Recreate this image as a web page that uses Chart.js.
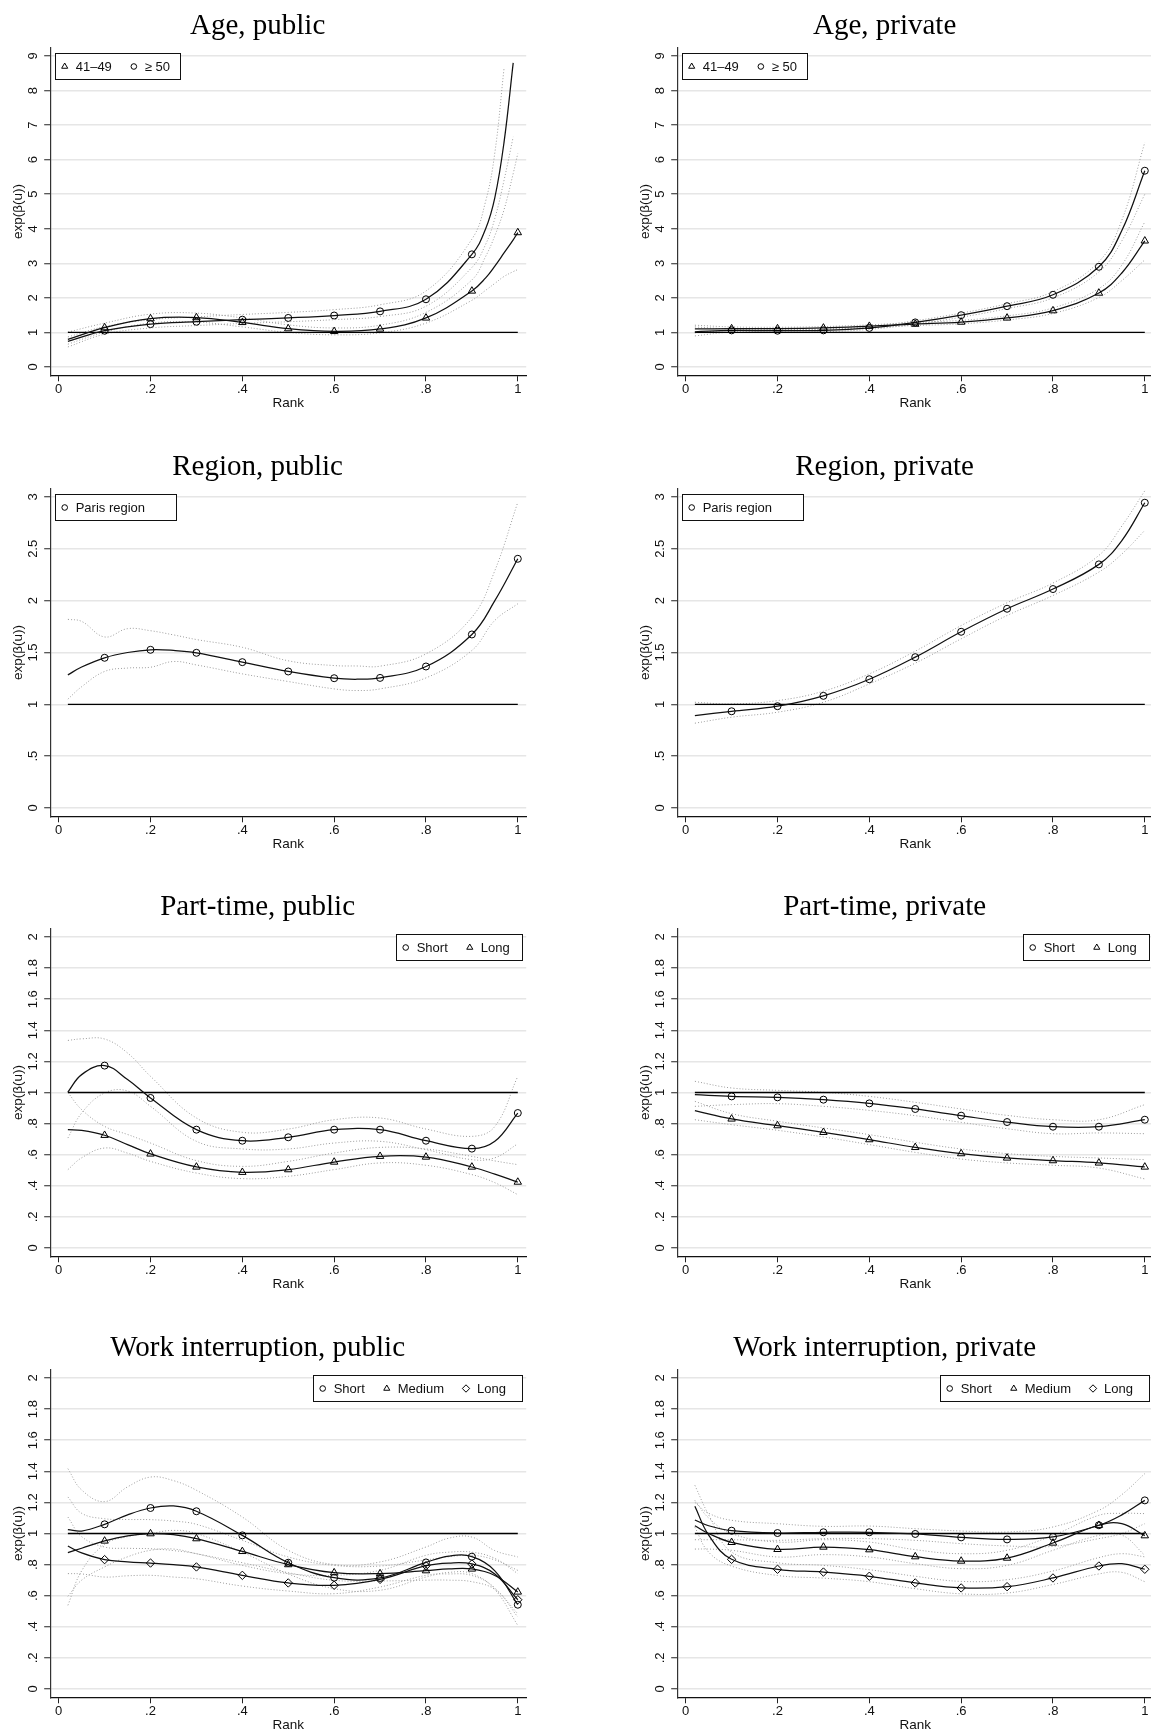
<!DOCTYPE html>
<html>
<head>
<meta charset="utf-8">
<script src="https://cdn.jsdelivr.net/npm/chart.js@4.4.1/dist/chart.umd.min.js"></script>
<style>
  html, body { margin: 0; padding: 0; background: #fff; }
  #page { position: relative; width: 1151px; height: 1733px; overflow: hidden; background: #fff; }
  #page canvas { position: absolute; }
</style>
</head>
<body>
<div id="page"></div>
<script>
// ---------- shared axis values ----------
const xTicks = [0, 0.2, 0.4, 0.6, 0.8, 1];
const xTickLabels = ['0', '.2', '.4', '.6', '.8', '1'];
const markerRanks = [0.1, 0.2, 0.3, 0.4, 0.5, 0.6, 0.7, 0.8, 0.9, 1];
const refRank = [0.02, 1];
const refLevel = 1;
const xTitle = 'Rank';
const yTitle = 'exp(β(u))';

const ageTicks = [0, 1, 2, 3, 4, 5, 6, 7, 8, 9];
const ageTickLabels = ['0', '1', '2', '3', '4', '5', '6', '7', '8', '9'];
const regionTicks = [0, 0.5, 1, 1.5, 2, 2.5, 3];
const regionTickLabels = ['0', '.5', '1', '1.5', '2', '2.5', '3'];
const shareTicks = [0, 0.2, 0.4, 0.6, 0.8, 1, 1.2, 1.4, 1.6, 1.8, 2];
const shareTickLabels = ['0', '.2', '.4', '.6', '.8', '1', '1.2', '1.4', '1.6', '1.8', '2'];

const titles = ['Age, public', 'Age, private', 'Region, public', 'Region, private',
                'Part-time, public', 'Part-time, private', 'Work interruption, public', 'Work interruption, private'];
const ageLegend = ['41–49', '≥ 50'];
const regionLegend = ['Paris region'];
const partTimeLegend = ['Short', 'Long'];
const interruptionLegend = ['Short', 'Medium', 'Long'];

// ---------- Age, public ----------
const agePubRank   = [0.02, 0.1, 0.2, 0.3, 0.4, 0.5, 0.6, 0.7, 0.8, 0.9, 0.93, 0.95, 0.97, 0.99, 1];
const agePub4149   = [0.80, 1.14, 1.40, 1.43, 1.29, 1.11, 1.03, 1.10, 1.42, 2.20, 2.58, 2.92, 3.30, 3.68, 3.89];
const agePub4149Hi = [1.01, 1.27, 1.53, 1.56, 1.42, 1.22, 1.13, 1.21, 1.58, 2.52, 3.20, 3.80, 4.55, 5.60, 6.18];
const agePub4149Lo = [0.66, 1.01, 1.27, 1.30, 1.16, 1.00, 0.93, 0.99, 1.27, 1.93, 2.22, 2.42, 2.62, 2.76, 2.82];
const agePub50     = [0.74, 1.05, 1.24, 1.31, 1.37, 1.42, 1.49, 1.61, 1.96, 3.26, 4.00, 4.90, 6.50, 8.80, null];
const agePub50Hi   = [0.87, 1.17, 1.37, 1.45, 1.52, 1.58, 1.66, 1.80, 2.20, 3.70, 4.80, 6.20, 8.64, null, null];
const agePub50Lo   = [0.58, 0.95, 1.13, 1.20, 1.26, 1.31, 1.37, 1.46, 1.76, 2.88, 3.55, 4.30, 5.40, 6.66, null];

// ---------- Age, private ----------
const agePrivRank   = [0.02, 0.1, 0.2, 0.3, 0.4, 0.5, 0.6, 0.7, 0.8, 0.9, 0.95, 1];
const agePriv4149   = [1.10, 1.11, 1.11, 1.13, 1.18, 1.24, 1.30, 1.42, 1.63, 2.14, 2.72, 3.65];
const agePriv4149Hi = [1.21, 1.16, 1.15, 1.17, 1.22, 1.29, 1.35, 1.48, 1.71, 2.27, 2.95, 4.20];
const agePriv4149Lo = [0.99, 1.06, 1.07, 1.09, 1.14, 1.20, 1.25, 1.36, 1.55, 2.01, 2.50, 3.10];
const agePriv50     = [1.02, 1.06, 1.05, 1.06, 1.13, 1.29, 1.50, 1.76, 2.09, 2.90, 3.95, 5.68];
const agePriv50Hi   = [1.16, 1.10, 1.09, 1.10, 1.17, 1.34, 1.56, 1.83, 2.18, 3.05, 4.25, 6.50];
const agePriv50Lo   = [0.90, 1.01, 1.01, 1.02, 1.09, 1.24, 1.44, 1.69, 2.00, 2.75, 3.65, 5.00];

// ---------- Region, public ----------
const regPubRank  = [0.02, 0.05, 0.1, 0.15, 0.2, 0.25, 0.3, 0.4, 0.5, 0.6, 0.65, 0.7, 0.8, 0.9, 0.95, 1];
const regPubParis = [1.284, 1.36, 1.449, 1.50, 1.526, 1.52, 1.497, 1.407, 1.317, 1.252, 1.242, 1.255, 1.365, 1.674, 2.00, 2.404];
const regPubHi    = [1.82, 1.80, 1.65, 1.73, 1.71, 1.67, 1.625, 1.55, 1.42, 1.374, 1.37, 1.368, 1.487, 1.84, 2.29, 2.95];
const regPubLo    = [1.05, 1.17, 1.317, 1.35, 1.358, 1.413, 1.38, 1.294, 1.22, 1.149, 1.133, 1.149, 1.255, 1.52, 1.81, 1.97];

// ---------- Region, private ----------
const regPrivRank  = [0.02, 0.1, 0.2, 0.3, 0.4, 0.5, 0.6, 0.7, 0.8, 0.9, 0.95, 1];
const regPrivParis = [0.892, 0.933, 0.982, 1.082, 1.242, 1.455, 1.70, 1.922, 2.112, 2.35, 2.58, 2.945];
const regPrivHi    = [1.02, 1.004, 1.036, 1.127, 1.294, 1.513, 1.76, 1.98, 2.17, 2.437, 2.72, 3.06];
const regPrivLo    = [0.818, 0.876, 0.924, 1.02, 1.197, 1.397, 1.632, 1.857, 2.05, 2.276, 2.45, 2.678];

// ---------- Part-time, public ----------
const ptPubRank    = [0.02, 0.05, 0.1, 0.15, 0.2, 0.3, 0.4, 0.5, 0.6, 0.7, 0.8, 0.9, 0.95, 1];
const ptPubShort   = [1.003, 1.115, 1.173, 1.083, 0.965, 0.761, 0.690, 0.712, 0.761, 0.761, 0.690, 0.639, 0.686, 0.868];
const ptPubShortHi = [1.335, 1.345, 1.344, 1.254, 1.104, 0.836, 0.744, 0.765, 0.825, 0.836, 0.765, 0.718, 0.782, 1.104];
const ptPubShortLo = [0.707, 0.868, 0.997, 1.010, 0.911, 0.686, 0.637, 0.637, 0.675, 0.686, 0.632, 0.568, 0.580, 0.670];
const ptPubLong    = [0.761, 0.757, 0.725, 0.665, 0.605, 0.521, 0.487, 0.504, 0.553, 0.590, 0.585, 0.521, 0.475, 0.424];
const ptPubLongHi  = [1.000, 0.890, 0.782, 0.730, 0.675, 0.562, 0.525, 0.557, 0.611, 0.647, 0.637, 0.589, 0.560, 0.536];
const ptPubLongLo  = [0.504, 0.580, 0.643, 0.610, 0.557, 0.482, 0.446, 0.461, 0.504, 0.547, 0.532, 0.472, 0.420, 0.343];

// ---------- Part-time, private ----------
const ptPrivRank    = [0.02, 0.1, 0.2, 0.3, 0.4, 0.5, 0.6, 0.7, 0.8, 0.9, 1];
const ptPrivShort   = [0.986, 0.975, 0.969, 0.954, 0.930, 0.894, 0.851, 0.810, 0.780, 0.780, 0.825];
const ptPrivShortHi = [1.072, 1.029, 1.014, 1.001, 0.975, 0.937, 0.894, 0.853, 0.825, 0.825, 0.922];
const ptPrivShortLo = [0.911, 0.922, 0.928, 0.911, 0.885, 0.851, 0.808, 0.767, 0.735, 0.740, 0.735];
const ptPrivLong    = [0.883, 0.830, 0.787, 0.744, 0.697, 0.647, 0.607, 0.579, 0.562, 0.547, 0.521];
const ptPrivLongHi  = [0.943, 0.864, 0.815, 0.772, 0.729, 0.680, 0.637, 0.607, 0.589, 0.579, 0.568];
const ptPrivLongLo  = [0.825, 0.793, 0.757, 0.714, 0.665, 0.615, 0.572, 0.547, 0.532, 0.514, 0.444];

// ---------- Work interruption, public ----------
const wiPubRank    = [0.02, 0.05, 0.1, 0.15, 0.2, 0.25, 0.3, 0.4, 0.5, 0.6, 0.7, 0.8, 0.85, 0.9, 0.95, 1];
const wiPubShort   = [1.025, 1.016, 1.059, 1.120, 1.164, 1.177, 1.143, 0.988, 0.812, 0.716, 0.714, 0.814, 0.855, 0.851, 0.760, 0.542];
const wiPubShortHi = [1.417, 1.280, 1.205, 1.300, 1.363, 1.340, 1.278, 1.106, 0.892, 0.800, 0.817, 0.913, 0.970, 0.977, 0.890, 0.849];
const wiPubShortLo = [0.538, 0.760, 0.930, 0.980, 1.000, 1.020, 1.000, 0.880, 0.740, 0.645, 0.635, 0.720, 0.750, 0.742, 0.640, 0.409];
const wiPubMed     = [0.877, 0.905, 0.952, 0.985, 0.999, 0.993, 0.967, 0.885, 0.800, 0.748, 0.742, 0.761, 0.772, 0.772, 0.730, 0.624];
const wiPubMedHi   = [1.235, 1.130, 1.095, 1.090, 1.089, 1.080, 1.059, 0.956, 0.849, 0.795, 0.791, 0.830, 0.850, 0.860, 0.830, 0.763];
const wiPubMedLo   = [0.596, 0.700, 0.785, 0.850, 0.892, 0.900, 0.870, 0.812, 0.748, 0.699, 0.695, 0.700, 0.700, 0.690, 0.640, 0.484];
const wiPubLong    = [0.920, 0.875, 0.832, 0.818, 0.810, 0.800, 0.785, 0.731, 0.682, 0.667, 0.705, 0.793, 0.810, 0.804, 0.740, 0.574];
const wiPubLongHi  = [1.106, 0.980, 0.913, 0.905, 0.902, 0.890, 0.870, 0.795, 0.742, 0.731, 0.763, 0.860, 0.880, 0.880, 0.840, 0.742];
const wiPubLongLo  = [0.742, 0.740, 0.720, 0.728, 0.731, 0.720, 0.709, 0.662, 0.630, 0.613, 0.656, 0.731, 0.740, 0.730, 0.650, 0.463];

// ---------- Work interruption, private ----------
const wiPrivRank    = [0.02, 0.05, 0.1, 0.2, 0.3, 0.4, 0.5, 0.6, 0.7, 0.8, 0.9, 0.95, 1];
const wiPrivShort   = [1.087, 1.050, 1.018, 1.003, 1.008, 1.008, 0.997, 0.975, 0.962, 0.978, 1.053, 1.120, 1.213];
const wiPrivShortHi = [1.200, 1.130, 1.085, 1.063, 1.046, 1.048, 1.031, 1.016, 1.010, 1.042, 1.149, 1.250, 1.385];
const wiPrivShortLo = [0.960, 0.960, 0.960, 0.956, 0.967, 0.967, 0.956, 0.935, 0.920, 0.917, 0.967, 1.000, 1.063];
const wiPrivMed     = [1.050, 1.000, 0.943, 0.898, 0.913, 0.896, 0.851, 0.823, 0.842, 0.939, 1.053, 1.063, 0.986];
const wiPrivMedHi   = [1.213, 1.100, 0.999, 0.945, 0.960, 0.945, 0.896, 0.870, 0.892, 0.988, 1.117, 1.130, 1.128];
const wiPrivMedLo   = [0.900, 0.900, 0.892, 0.849, 0.864, 0.849, 0.806, 0.774, 0.795, 0.892, 0.988, 0.990, 0.860];
const wiPrivLong    = [1.175, 0.990, 0.834, 0.770, 0.752, 0.725, 0.682, 0.650, 0.658, 0.714, 0.791, 0.806, 0.770];
const wiPrivLongHi  = [1.310, 1.120, 0.881, 0.812, 0.795, 0.767, 0.725, 0.692, 0.703, 0.759, 0.845, 0.870, 0.850];
const wiPrivLongLo  = [1.040, 0.880, 0.790, 0.730, 0.713, 0.690, 0.645, 0.612, 0.617, 0.672, 0.740, 0.750, 0.690];

// ---------- panel definitions ----------
const panels = [
  { title: titles[0], col: 0, row: 0, yTicks: ageTicks, yLabels: ageTickLabels, rank: agePubRank, legendSide: 'left', legendWidth: 125,
    series: [ { label: ageLegend[0], style: 'triangle', est: agePub4149, hi: agePub4149Hi, lo: agePub4149Lo },
              { label: ageLegend[1], style: 'circle',   est: agePub50,   hi: agePub50Hi,   lo: agePub50Lo } ] },
  { title: titles[1], col: 1, row: 0, yTicks: ageTicks, yLabels: ageTickLabels, rank: agePrivRank, legendSide: 'left', legendWidth: 125,
    series: [ { label: ageLegend[0], style: 'triangle', est: agePriv4149, hi: agePriv4149Hi, lo: agePriv4149Lo },
              { label: ageLegend[1], style: 'circle',   est: agePriv50,   hi: agePriv50Hi,   lo: agePriv50Lo } ] },
  { title: titles[2], col: 0, row: 1, yTicks: regionTicks, yLabels: regionTickLabels, rank: regPubRank, legendSide: 'left', legendWidth: 121,
    series: [ { label: regionLegend[0], style: 'circle', est: regPubParis, hi: regPubHi, lo: regPubLo } ] },
  { title: titles[3], col: 1, row: 1, yTicks: regionTicks, yLabels: regionTickLabels, rank: regPrivRank, legendSide: 'left', legendWidth: 121,
    series: [ { label: regionLegend[0], style: 'circle', est: regPrivParis, hi: regPrivHi, lo: regPrivLo } ] },
  { title: titles[4], col: 0, row: 2, yTicks: shareTicks, yLabels: shareTickLabels, rank: ptPubRank, legendSide: 'right', legendWidth: 126,
    series: [ { label: partTimeLegend[0], style: 'circle',   est: ptPubShort, hi: ptPubShortHi, lo: ptPubShortLo },
              { label: partTimeLegend[1], style: 'triangle', est: ptPubLong,  hi: ptPubLongHi,  lo: ptPubLongLo } ] },
  { title: titles[5], col: 1, row: 2, yTicks: shareTicks, yLabels: shareTickLabels, rank: ptPrivRank, legendSide: 'right', legendWidth: 126,
    series: [ { label: partTimeLegend[0], style: 'circle',   est: ptPrivShort, hi: ptPrivShortHi, lo: ptPrivShortLo },
              { label: partTimeLegend[1], style: 'triangle', est: ptPrivLong,  hi: ptPrivLongHi,  lo: ptPrivLongLo } ] },
  { title: titles[6], col: 0, row: 3, yTicks: shareTicks, yLabels: shareTickLabels, rank: wiPubRank, legendSide: 'right', legendWidth: 209,
    series: [ { label: interruptionLegend[0], style: 'circle',   est: wiPubShort, hi: wiPubShortHi, lo: wiPubShortLo },
              { label: interruptionLegend[1], style: 'triangle', est: wiPubMed,   hi: wiPubMedHi,   lo: wiPubMedLo },
              { label: interruptionLegend[2], style: 'rectRot',  est: wiPubLong,  hi: wiPubLongHi,  lo: wiPubLongLo } ] },
  { title: titles[7], col: 1, row: 3, yTicks: shareTicks, yLabels: shareTickLabels, rank: wiPrivRank, legendSide: 'right', legendWidth: 209,
    series: [ { label: interruptionLegend[0], style: 'circle',   est: wiPrivShort, hi: wiPrivShortHi, lo: wiPrivShortLo },
              { label: interruptionLegend[1], style: 'triangle', est: wiPrivMed,   hi: wiPrivMedHi,   lo: wiPrivMedLo },
              { label: interruptionLegend[2], style: 'rectRot',  est: wiPrivLong,  hi: wiPrivLongHi,  lo: wiPrivLongLo } ] }
];

// ---------- layout & style ----------
const CANVAS_W = 551, CANVAS_H = 440;
const COL_LEFT = [-11, 616];
const ROW_PITCH = 440.5;
const Y_AXIS_W = 61.2;
const X_AXIS_H = 64.7;
const SANS = '"Liberation Sans", Arial, Helvetica, sans-serif';
const SERIF = '"Liberation Serif", "Times New Roman", serif';
const tickFont = { family: SANS, size: 13 };
const axisTitleFont = { family: SANS, size: 13.5, lineHeight: 1 };
const markerRadius = { circle: 3.5, triangle: 4.3, rectRot: 4.2 };
const legendMarkerRadius = { circle: 2.8, triangle: 3.5, rectRot: 3.7 };

const measureCtx = document.createElement('canvas').getContext('2d');
measureCtx.font = '13px ' + SANS;

function isMarker(x) {
  return markerRanks.some(m => Math.abs(m - x) < 1e-6);
}
function toPoints(rank, values) {
  return rank.map((r, i) => ({ x: r, y: values[i] }));
}

// legend drawn as a framed box inside the plot area
const legendBoxPlugin = {
  id: 'legendBox',
  afterDraw(chart, args, opts) {
    if (!opts || !opts.items) return;
    const { ctx, chartArea } = chart;
    const w = opts.width, h = 26;
    const top = Math.round(chartArea.top + 4.8) + 0.5;
    const left = Math.round(opts.side === 'left' ? chartArea.left + 4.3 : chartArea.right - 4.4 - w) + 0.5;
    ctx.save();
    ctx.fillStyle = '#fff';
    ctx.fillRect(left, top, w, h);
    ctx.strokeStyle = '#111';
    ctx.lineWidth = 1;
    ctx.strokeRect(left, top, w, h);
    ctx.font = '13px ' + SANS;
    ctx.textBaseline = 'middle';
    const cy = top + h / 2;
    let x = left + 9.2;
    opts.items.forEach(it => {
      ctx.fillStyle = 'rgba(0,0,0,0)';
      ctx.strokeStyle = '#000';
      ctx.lineWidth = 1;
      Chart.helpers.drawPoint(ctx, { pointStyle: it.style, radius: legendMarkerRadius[it.style], borderWidth: 1, rotation: 0 }, x, cy);
      const tx = x + 11;
      ctx.fillStyle = '#111';
      ctx.textAlign = 'left';
      ctx.fillText(it.label, tx, cy + 0.5);
      x = tx + ctx.measureText(it.label).width + 22;
    });
    ctx.restore();
  }
};

const page = document.getElementById('page');

panels.forEach(p => {
  const canvas = document.createElement('canvas');
  canvas.width = CANVAS_W;
  canvas.height = CANVAS_H;
  canvas.style.width = CANVAS_W + 'px';
  canvas.style.height = CANVAS_H + 'px';
  canvas.style.left = COL_LEFT[p.col] + 'px';
  canvas.style.top = Math.round(p.row * ROW_PITCH) + 'px';
  page.appendChild(canvas);

  const first = p.yTicks[0], last = p.yTicks[p.yTicks.length - 1];
  const pad = (last - first) * 0.0267;
  const widest = Math.max(...p.yLabels.map(l => measureCtx.measureText(l).width));
  const yTickPad = 10.5 - widest / 2;

  const datasets = [];
  p.series.forEach(s => {
    [s.hi, s.lo].forEach(band => {
      datasets.push({
        data: toPoints(p.rank, band),
        borderColor: '#9c9c9c', borderWidth: 1, borderDash: [1, 2],
        pointRadius: 0, tension: 0.4, fill: false, order: 3
      });
    });
    datasets.push({
      label: s.label,
      data: toPoints(p.rank, s.est),
      borderColor: '#111', borderWidth: 1.25, tension: 0.4, fill: false, order: 1,
      pointStyle: s.style,
      pointRadius: ctx => (ctx.raw && isMarker(ctx.raw.x)) ? markerRadius[s.style] : 0,
      pointBorderColor: '#000', pointBackgroundColor: 'rgba(0,0,0,0)', pointBorderWidth: 1
    });
  });
  datasets.push({
    data: toPoints(refRank, refRank.map(() => refLevel)),
    borderColor: '#000', borderWidth: 1.3, pointRadius: 0, tension: 0, fill: false, order: 2
  });

  new Chart(canvas, {
    type: 'line',
    data: { datasets },
    options: {
      responsive: false,
      animation: false,
      devicePixelRatio: 1,
      events: [],
      layout: { padding: { left: 0, right: 13.8, top: 0, bottom: 0 } },
      plugins: {
        legend: { display: false },
        tooltip: { enabled: false },
        title: {
          display: true, text: p.title, color: '#000',
          font: { family: SERIF, size: 29, weight: 'normal', lineHeight: 1 },
          padding: { top: 11.7, bottom: 7 }
        },
        legendBox: { items: p.series.map(s => ({ label: s.label, style: s.style })), side: p.legendSide, width: p.legendWidth }
      },
      scales: {
        x: {
          type: 'linear', min: -0.0185, max: 1.0183,
          afterBuildTicks: s => { s.ticks = xTicks.map(v => ({ value: v })); },
          afterFit: s => { s.height = X_AXIS_H; },
          ticks: { callback: (v, i) => xTickLabels[i], font: tickFont, color: '#111', padding: 0, maxRotation: 0, autoSkip: false },
          grid: { drawOnChartArea: false, drawTicks: true, tickLength: 6, tickColor: '#222', tickWidth: 1 },
          border: { display: true, color: '#111', width: 1.2 },
          title: { display: true, text: xTitle, font: axisTitleFont, color: '#111', padding: { top: 0, bottom: 29.75 } }
        },
        y: {
          type: 'linear', min: first - pad, max: last + pad,
          afterBuildTicks: s => { s.ticks = p.yTicks.map(v => ({ value: v })); },
          afterFit: s => { s.width = Y_AXIS_W; },
          ticks: { callback: (v, i) => p.yLabels[i], font: tickFont, color: '#111', padding: yTickPad,
                   minRotation: 90, maxRotation: 90, crossAlign: 'center', autoSkip: false },
          grid: { color: '#e6e6e6', lineWidth: 1.5, drawTicks: true, tickLength: 6, tickColor: '#222', tickWidth: 1 },
          border: { display: true, color: '#333', width: 1.2 },
          title: { display: true, text: yTitle, font: axisTitleFont, color: '#111', padding: { top: 22.55, bottom: 0 } }
        }
      }
    },
    plugins: [legendBoxPlugin]
  });
});
</script>
</body>
</html>
